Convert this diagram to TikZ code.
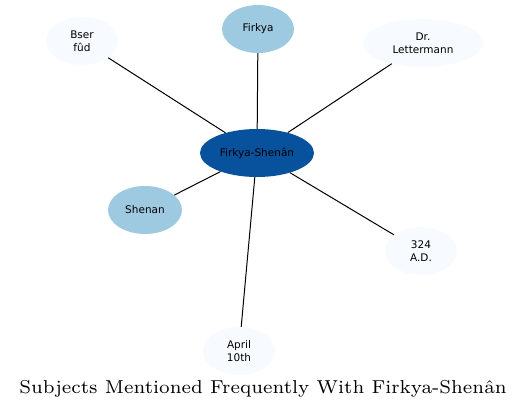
\documentclass[tikz,border=0pt]{standalone}
\usepackage{fontspec}
\setmainfont{Latin Modern Roman}
\newfontfamily\nodefont{DejaVu Sans}
\newfontfamily\titlefont{lmroman7-regular.otf}
\usetikzlibrary{shapes.geometric}
\definecolor{darkblue}{HTML}{08519C}
\definecolor{midblue}{HTML}{9ECAE1}
\definecolor{paleblue}{HTML}{F7FBFF}
\begin{document}
\begin{tikzpicture}[x=1pt,y=-1pt,
  bubble/.style={ellipse,inner sep=0pt,minimum height=48pt,font=\nodefont\fontsize{10.5}{12.5}\selectfont,align=center,text=black},
  link/.style={draw=black,line width=1pt}]
\useasboundingbox (0,0) rectangle (529,412);
\node[bubble,fill=darkblue,minimum width=114pt] (c) at (257,153) {Firkya-Shenân};
\node[bubble,fill=midblue,minimum width=72pt] (f) at (258,29) {Firkya};
\node[bubble,fill=paleblue,minimum width=72pt] (b) at (82,41) {Bser\\fûd};
\node[bubble,fill=paleblue,minimum width=120pt] (d) at (423,43) {Dr.\\Lettermann};
\node[bubble,fill=midblue,minimum width=74pt] (s) at (145,210) {Shenan};
\node[bubble,fill=paleblue,minimum width=72pt] (a) at (421,251) {324\\A.D.};
\node[bubble,fill=paleblue,minimum width=72pt] (p) at (239,351) {April\\10th};
\draw[link] (c) -- (f);
\draw[link] (c) -- (b);
\draw[link] (c) -- (d);
\draw[link] (c) -- (s);
\draw[link] (c) -- (a);
\draw[link] (c) -- (p);
\node[font=\titlefont\fontsize{18.7}{22}\selectfont] (t) at (263,389) {Subjects Mentioned Frequently With Firkya-Shenân};
\end{tikzpicture}
\end{document}
